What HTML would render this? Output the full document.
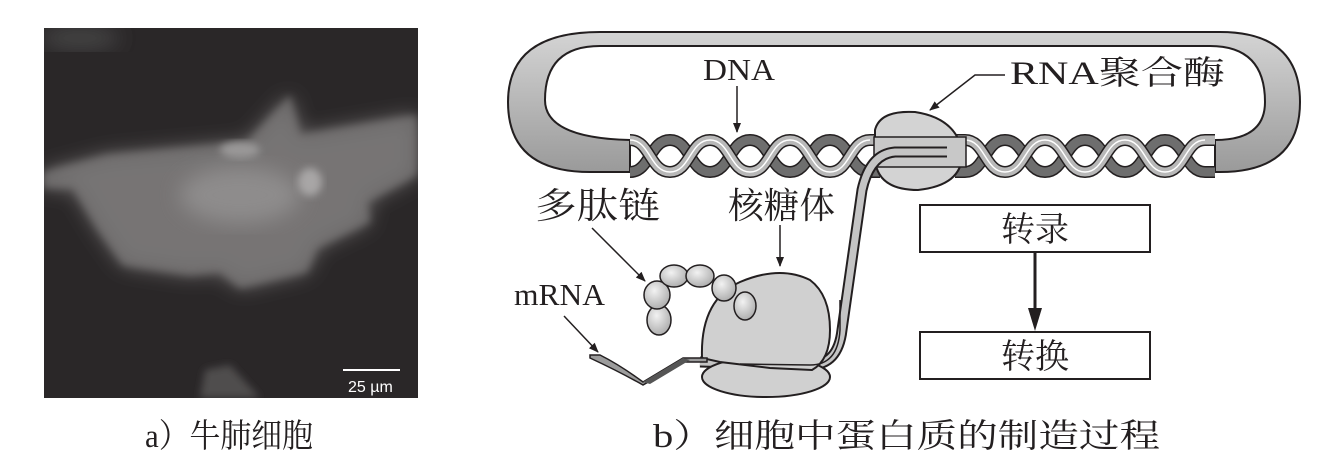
<!DOCTYPE html>
<html><head><meta charset="utf-8"><style>
body{margin:0;background:#fff;}
svg{display:block}
text{font-family:"Liberation Serif","Noto Serif CJK SC",serif;fill:#231f20}
</style></head><body>
<svg width="1317" height="462" viewBox="0 0 1317 462" xmlns="http://www.w3.org/2000/svg">
<defs>
<filter id="bl" x="-20%" y="-20%" width="140%" height="140%"><feGaussianBlur stdDeviation="4"/></filter>
<filter id="bl2" x="-20%" y="-20%" width="140%" height="140%"><feGaussianBlur stdDeviation="10"/></filter>
<radialGradient id="bead" cx="40%" cy="35%" r="70%"><stop offset="0" stop-color="#f2f2f2"/><stop offset="1" stop-color="#aaa"/></radialGradient>
<linearGradient id="loop" x1="0" y1="0" x2="0" y2="1"><stop offset="0" stop-color="#d4d4d4"/><stop offset="1" stop-color="#9a9a9a"/></linearGradient>
<clipPath id="photo"><rect x="44" y="28" width="374" height="370"/></clipPath>
<marker id="ah" markerWidth="10" markerHeight="10" refX="9" refY="5" orient="auto" markerUnits="userSpaceOnUse"><path d="M0,1 L10,5 L0,9 z" fill="#231f20"/></marker>
</defs>
<!-- photo -->
<rect x="44" y="28" width="374" height="370" fill="#2a2728"/>
<g clip-path="url(#photo)">
<path d="M43,172 L107,155 L247,142 L290,95 L300,135 L417,115 L417,175 L367,202 L370,222 L317,248 L307,272 L240,288 L220,272 L190,275 L123,265 L97,228 L73,188 L43,188Z" fill="#6f6d6d" filter="url(#bl2)"/>
<path d="M43,172 L107,155 L247,142 L290,95 L300,135 L417,115 L417,175 L367,202 L370,222 L317,248 L307,272 L240,288 L220,272 L190,275 L123,265 L97,228 L73,188 L43,188Z" fill="#7a7878" filter="url(#bl)" opacity="0.7"/>
<ellipse cx="240" cy="195" rx="60" ry="28" fill="#8e8c8c" filter="url(#bl2)"/>
<ellipse cx="310" cy="182" rx="12" ry="14" fill="#a8a6a6" filter="url(#bl)"/>
<ellipse cx="240" cy="150" rx="20" ry="8" fill="#9a9898" filter="url(#bl)"/>
<ellipse cx="80" cy="38" rx="40" ry="10" fill="#4a4848" filter="url(#bl2)"/>
<path d="M200,398 L205,370 L230,365 L260,398Z" fill="#504e4e" filter="url(#bl)"/>
<line x1="343" y1="370" x2="400" y2="370" stroke="#fff" stroke-width="2"/>
<text x="348" y="392" style="font-family:'Liberation Sans',sans-serif;fill:#fff;font-size:16px">25 µm</text>
</g>
<!-- DNA loop -->
<path d="M630,172 L590,172 Q508,172 508,102 Q508,32 600,32 L1220,32 Q1300,32 1300,102 Q1300,172 1220,172 L1215,172 L1215,140 Q1265,140 1265,102 Q1265,46 1210,46 L600,46 Q545,46 545,100 Q545,138 630,140Z" fill="url(#loop)" stroke="#231f20" stroke-width="2"/>
<g fill="none">
<path d="M630,172 C650,172 650,140 670,140 C690,140 690,172 710,172 C730,172 730,140 750,140 C770,140 770,172 790,172 C810,172 810,140 830,140 C850,140 850,172 870,172 L880,172 M955,172 L965,172 C985,172 985,140 1005,140 C1025,140 1025,172 1045,172 C1065,172 1065,140 1085,140 C1105,140 1105,172 1125,172 C1145,172 1145,140 1165,140 C1185,140 1185,172 1205,172 L1215,172" stroke="#231f20" stroke-width="12"/>
<path d="M630,172 C650,172 650,140 670,140 C690,140 690,172 710,172 C730,172 730,140 750,140 C770,140 770,172 790,172 C810,172 810,140 830,140 C850,140 850,172 870,172 L880,172 M955,172 L965,172 C985,172 985,140 1005,140 C1025,140 1025,172 1045,172 C1065,172 1065,140 1085,140 C1105,140 1105,172 1125,172 C1145,172 1145,140 1165,140 C1185,140 1185,172 1205,172 L1215,172" stroke="#6e6e6e" stroke-width="9"/>
<path d="M630,140 C650,140 650,172 670,172 C690,172 690,140 710,140 C730,140 730,172 750,172 C770,172 770,140 790,140 C810,140 810,172 830,172 C850,172 850,140 870,140 L880,140 M955,140 L965,140 C985,140 985,172 1005,172 C1025,172 1025,140 1045,140 C1065,140 1065,172 1085,172 C1105,172 1105,140 1125,140 C1145,140 1145,172 1165,172 C1185,172 1185,140 1205,140 L1215,140" stroke="#231f20" stroke-width="12"/>
<path d="M630,140 C650,140 650,172 670,172 C690,172 690,140 710,140 C730,140 730,172 750,172 C770,172 770,140 790,140 C810,140 810,172 830,172 C850,172 850,140 870,140 L880,140 M955,140 L965,140 C985,140 985,172 1005,172 C1025,172 1025,140 1045,140 C1065,140 1065,172 1085,172 C1105,172 1105,140 1125,140 C1145,140 1145,172 1165,172 C1185,172 1185,140 1205,140 L1215,140" stroke="#b8b8b8" stroke-width="9"/>
<path d="M630,140 C650,140 650,172 670,172 C690,172 690,140 710,140 C730,140 730,172 750,172 C770,172 770,140 790,140 C810,140 810,172 830,172 C850,172 850,140 870,140 M965,140 C985,140 985,172 1005,172 C1025,172 1025,140 1045,140 C1065,140 1065,172 1085,172 C1105,172 1105,140 1125,140 C1145,140 1145,172 1165,172 C1185,172 1185,140 1205,140" stroke="#fff" stroke-width="1.5"/>
</g>
<!-- polymerase -->
<path d="M875,130 Q880,110 915,112 Q955,118 962,150 Q965,185 918,190 Q878,190 875,160Z" fill="#d3d3d3" stroke="#231f20" stroke-width="2"/>
<rect x="874" y="137" width="92" height="30" fill="#c8c8c8" stroke="#231f20" stroke-width="1.5"/>
<!-- mRNA strand -->
<path d="M947,152 L895,152 Q870,154 862,190 L842,330 Q838,365 810,365 L700,362" fill="none" stroke="#231f20" stroke-width="11"/>
<path d="M947,152 L895,152 Q870,154 862,190 L842,330 Q838,365 810,365 L700,362" fill="none" stroke="#c4c4c4" stroke-width="7"/>
<!-- ribosome -->
<ellipse cx="766" cy="377" rx="64" ry="20" fill="#d0d0d0" stroke="#231f20" stroke-width="2"/>
<path d="M702,358 Q700,300 740,282 Q780,265 810,280 Q830,295 830,330 Q830,360 812,370 L770,368 L720,362Z" fill="#d0d0d0" stroke="#231f20" stroke-width="2"/>
<path d="M840,300 L840,330 Q838,365 810,365 L740,364" fill="none" stroke="#231f20" stroke-width="1.5"/>
<!-- mRNA ribbon -->
<path d="M590,355 L600,355 Q620,365 643,382 L683,358 L707,358 L707,362 L683,362 L643,385 Q620,372 590,358Z" fill="#9c9c9c" stroke="#231f20" stroke-width="1.5"/>
<path d="M643,382 L683,358 L690,360 L650,384Z" fill="#555"/>
<!-- beads -->
<g fill="url(#bead)" stroke="#231f20" stroke-width="1.5">
<ellipse cx="659" cy="320" rx="12" ry="15"/>
<ellipse cx="657" cy="295" rx="13" ry="14"/>
<ellipse cx="674" cy="276" rx="14" ry="11"/>
<ellipse cx="700" cy="276" rx="14" ry="11"/>
<ellipse cx="724" cy="288" rx="12" ry="13"/>
<ellipse cx="745" cy="306" rx="11" ry="14"/>
</g>
<!-- labels -->
<text x="703" y="80" font-size="31" textLength="72" lengthAdjust="spacingAndGlyphs">DNA</text>
<line x1="737" y1="86" x2="737" y2="132" stroke="#231f20" stroke-width="1.5" marker-end="url(#ah)"/>
<text x="1010" y="84" font-size="33" textLength="215" lengthAdjust="spacingAndGlyphs">RNA聚合酶</text>
<polyline points="1005,75 975,75 930,110" fill="none" stroke="#231f20" stroke-width="1.5" marker-end="url(#ah)"/>
<text x="535" y="218" font-size="36" textLength="125" lengthAdjust="spacingAndGlyphs">多肽链</text>
<line x1="592" y1="228" x2="645" y2="281" stroke="#231f20" stroke-width="1.5" marker-end="url(#ah)"/>
<text x="728" y="218" font-size="36" textLength="107" lengthAdjust="spacingAndGlyphs">核糖体</text>
<line x1="780" y1="225" x2="780" y2="266" stroke="#231f20" stroke-width="1.5" marker-end="url(#ah)"/>
<text x="514" y="305" font-size="31" textLength="91" lengthAdjust="spacingAndGlyphs">mRNA</text>
<line x1="564" y1="316" x2="598" y2="352" stroke="#231f20" stroke-width="1.5" marker-end="url(#ah)"/>
<!-- boxes -->
<rect x="920" y="205" width="230" height="47" fill="#fff" stroke="#231f20" stroke-width="2"/>
<text x="1035" y="241" font-size="34" text-anchor="middle">转录</text>
<line x1="1035" y1="252" x2="1035" y2="312" stroke="#231f20" stroke-width="3"/>
<polygon points="1028,308 1042,308 1035,331" fill="#231f20"/>
<rect x="920" y="332" width="230" height="47" fill="#fff" stroke="#231f20" stroke-width="2"/>
<text x="1035" y="368" font-size="34" text-anchor="middle">转换</text>
<!-- captions -->
<text x="145" y="447" font-size="33" textLength="168" lengthAdjust="spacingAndGlyphs">a）牛肺细胞</text>
<text x="653" y="447" font-size="33" textLength="507" lengthAdjust="spacingAndGlyphs">b）细胞中蛋白质的制造过程</text>
</svg>
</body></html>
